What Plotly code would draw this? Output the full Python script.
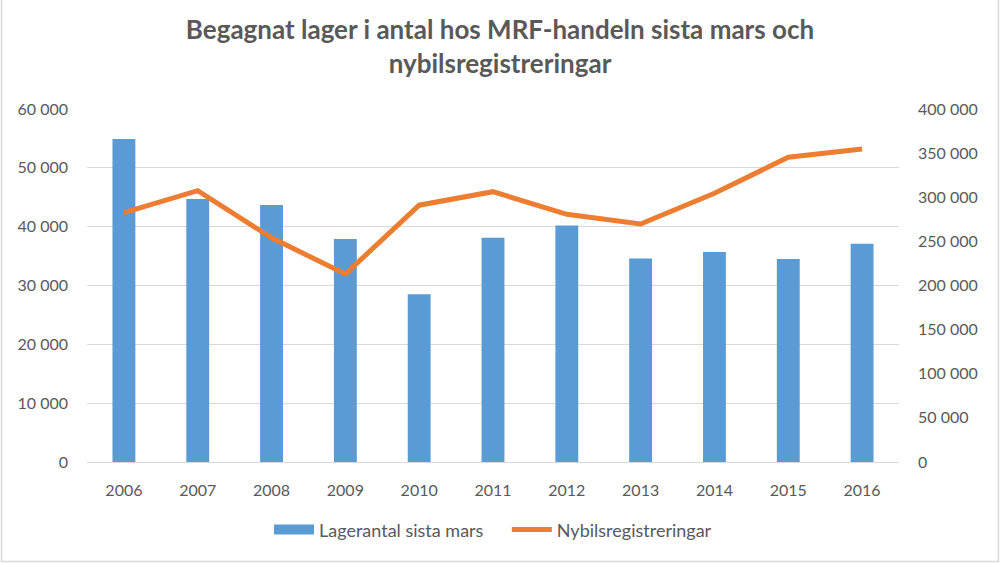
import plotly.graph_objects as go

years = ["2006", "2007", "2008", "2009", "2010", "2011", "2012", "2013", "2014", "2015", "2016"]
lager = [54900, 44700, 43700, 37900, 28500, 38100, 40200, 34600, 35700, 34500, 37100]
nybil = [282500, 307400, 254000, 213000, 291000, 306300, 280700, 269700, 304500, 345300, 354700]

left_ticks = [0, 10000, 20000, 30000, 40000, 50000, 60000]
right_ticks = [0, 50000, 100000, 150000, 200000, 250000, 300000, 350000, 400000]

def fmt(v):
    return f"{v:,}".replace(",", " ")

FONT = "Lato, Open Sans, sans-serif"
GRAY = "#595959"
BLUE = "#5B9BD5"
ORANGE = "#ED7D31"

fig = go.Figure()
fig.add_trace(go.Bar(
    x=years, y=lager, name="Lagerantal sista mars",
    marker=dict(color=BLUE, line=dict(width=0)),
    width=0.31, yaxis="y", showlegend=False,
))
# legend-only entry to show a wide rectangle symbol for the bars
fig.add_trace(go.Scatter(
    x=[None], y=[None], name="Lagerantal sista mars\u00a0\u00a0\u00a0\u00a0", mode="lines",
    line=dict(color=BLUE, width=10), yaxis="y", showlegend=True,
))
fig.add_trace(go.Scatter(
    x=years, y=nybil, name="Nybilsregistreringar", mode="lines",
    line=dict(color=ORANGE, width=5), yaxis="y2",
))

fig.update_layout(
    width=1000, height=563,
    paper_bgcolor="white", plot_bgcolor="white",
    margin=dict(l=87, r=101, t=109, b=101),
    font=dict(family=FONT, color=GRAY, size=16),
    title=dict(
        text="<b>Begagnat lager i antal hos MRF-handeln sista mars och<br>nybilsregistreringar</b>",
        x=0.5, xanchor="center", y=0.93, yanchor="top",
        font=dict(size=26, color=GRAY, family=FONT),
    ),
    xaxis=dict(
        type="category", showgrid=False, showline=True, linecolor="#D9D9D9", linewidth=1,
        ticks="", tickfont=dict(size=16, color=GRAY), ticklabelstandoff=14,
    ),
    yaxis=dict(
        range=[0, 60000], tickvals=left_ticks, ticktext=[fmt(v) for v in left_ticks],
        showgrid=True, gridcolor="#D9D9D9", gridwidth=1, zeroline=False,
        tickfont=dict(size=16, color=GRAY), ticklen=0, ticklabelstandoff=18,
    ),
    yaxis2=dict(
        range=[0, 400000], tickvals=right_ticks, ticktext=[fmt(v) for v in right_ticks],
        overlaying="y", side="right", showgrid=False, zeroline=False,
        tickfont=dict(size=16, color=GRAY), ticklabelstandoff=18,
    ),
    legend=dict(
        orientation="h", x=0.5, xanchor="center", y=-0.14, yanchor="top",
        font=dict(size=18, color=GRAY), itemwidth=40, traceorder="normal",
    ),
    bargap=0.69,
    shapes=[dict(type="rect", xref="paper", yref="paper", x0=-0.1053, x1=1.1225, y0=-0.2819, y1=1.33,
                 line=dict(color="#D9D9D9", width=1.5))],
)

fig.write_html("out.html")
